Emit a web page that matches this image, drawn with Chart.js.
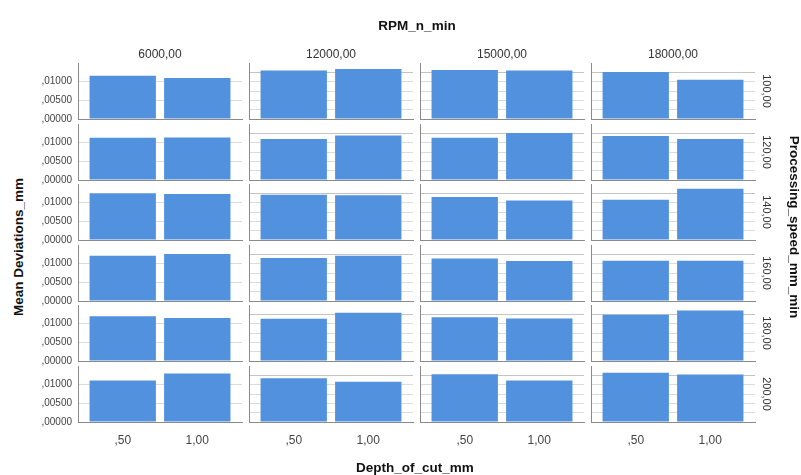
<!DOCTYPE html>
<html>
<head>
<meta charset="utf-8">
<script src="https://cdn.jsdelivr.net/npm/chart.js@4.4.1/dist/chart.umd.min.js"></script>
<style>
  body { margin: 0; background: #fff; }
  #wrap {
    position: relative;
    width: 801px;
    height: 475px;
    overflow: hidden;
    font-family: Arial, "Liberation Sans", sans-serif;
  }
  #wrap canvas { position: absolute; }
  .lbl { position: absolute; white-space: nowrap; color: #333; transform: translate(-50%, -50%); }
  .title { font-weight: bold; font-size: 13.5px; color: #111; }
  .head { font-size: 12px; }
  .rowlbl { font-size: 11px; transform: translate(-50%, -50%) rotate(90deg); }
</style>
</head>
<body>
<div id="wrap"></div>
<script>
const rpmLabels = ["6000,00", "12000,00", "15000,00", "18000,00"];
const speedLabels = ["100,00", "120,00", "140,00", "160,00", "180,00", "200,00"];
const depthValues = [0.5, 1.0];
const depthLabels = [",50", "1,00"];
const yGridValues = [0, 0.0025, 0.005, 0.0075, 0.01, 0.0125, 0.015];
const yTickValues = [0, 0.005, 0.01];
const yTickText = [",00000", ",00500", ",01000"];

// mean deviation per speed row, pairs are [depth ,50 ; depth 1,00]
const dev6000 = [
  [0.0116, 0.0110], [0.0113, 0.0114], [0.0125, 0.0123],
  [0.0121, 0.0126], [0.0120, 0.0115], [0.0111, 0.0130],
];
const dev12000 = [
  [0.0130, 0.0134], [0.0110, 0.0119], [0.0121, 0.0120],
  [0.0115, 0.0121], [0.0113, 0.0129], [0.0117, 0.0108],
];
const dev15000 = [
  [0.0131, 0.0130], [0.0113, 0.0126], [0.0115, 0.0106],
  [0.0114, 0.0107], [0.0117, 0.0114], [0.0128, 0.0111],
];
const dev18000 = [
  [0.0126, 0.0105], [0.0118, 0.0110], [0.0108, 0.0137],
  [0.0108, 0.0108], [0.0124, 0.0135], [0.0132, 0.0127],
];
const devByRpm = [dev6000, dev12000, dev15000, dev18000];

const barColor = "#5291de";
const axisColor = "#8a8a8a";

// panel geometry
const colLeft = [78, 249, 420, 591];
const rowBottom = [119, 180, 240, 301, 361, 422];
const panelW = 164;
const panelH = 56;
const PAD_T = 12;
const PAD_R = 4;
const Y_W = 50;
const X_H = 26;

const wrap = document.getElementById("wrap");

const addLabel = (text, x, y, cls, extraStyle = "") => {
  const el = document.createElement("div");
  el.className = "lbl " + cls;
  el.textContent = text;
  el.style.cssText = `left:${x}px;top:${y}px;${extraStyle}`;
  wrap.appendChild(el);
};

const makePanel = (c, r) => {
  const isLeft = c === 0;
  const isBottom = r === rowBottom.length - 1;
  const canvas = document.createElement("canvas");
  const w = Y_W + panelW + PAD_R;
  const h = PAD_T + panelH + X_H;
  canvas.width = w;
  canvas.height = h;
  canvas.style.left = colLeft[c] - Y_W + "px";
  canvas.style.top = rowBottom[r] - panelH - PAD_T + "px";
  canvas.style.width = w + "px";
  canvas.style.height = h + "px";
  wrap.appendChild(canvas);

  const values = devByRpm[c][r];

  new Chart(canvas, {
    type: "bar",
    data: {
      datasets: [
        {
          data: values.map((v, i) => ({ x: depthValues[i], y: v })),
          backgroundColor: barColor,
          borderWidth: 0,
          categoryPercentage: 1,
          barPercentage: 0.89,
        },
      ],
    },
    options: {
      responsive: false,
      animation: false,
      layout: { padding: { top: PAD_T, right: PAD_R, left: 0, bottom: 0 } },
      plugins: { legend: { display: false }, tooltip: { enabled: false } },
      scales: {
        x: {
          type: "linear",
          offset: false,
          min: 0.2,
          max: 1.3,
          afterBuildTicks: (s) => {
            s.ticks = depthValues.map((v) => ({ value: v }));
          },
          afterFit: (s) => {
            s.height = X_H;
          },
          grid: { display: false, offset: false },
          border: { display: true, color: axisColor, width: 1 },
          ticks: {
            display: isBottom,
            autoSkip: false,
            maxRotation: 0,
            padding: 3,
            color: "#444",
            font: { family: "Arial, 'Liberation Sans', sans-serif", size: 12 },
            callback: (v) => depthLabels[depthValues.indexOf(v)] ?? "",
          },
        },
        y: {
          min: 0,
          max: 0.015,
          afterBuildTicks: (s) => {
            s.ticks = yGridValues.map((v) => ({ value: v }));
          },
          afterFit: (s) => {
            s.width = Y_W;
          },
          grid: {
            drawTicks: false,
            color: (ctx) => {
              const v = ctx.tick && ctx.tick.value;
              if (v === 0.015) return "rgba(0,0,0,0)";
              if (v === 0.0125) return "#c4c4c4";
              return "#dcdcdc";
            },
          },
          border: { display: true, color: axisColor, width: 1 },
          ticks: {
            display: isLeft,
            padding: 6,
            color: "#444",
            font: { family: "Arial, 'Liberation Sans', sans-serif", size: 10 },
            callback: (v) => {
              const i = yTickValues.indexOf(v);
              return i < 0 ? "" : yTickText[i];
            },
          },
        },
      },
    },
  });
};

rpmLabels.forEach((_, c) => speedLabels.forEach((_, r) => makePanel(c, r)));

// facet headers
rpmLabels.forEach((t, c) => addLabel(t, colLeft[c] + panelW / 2, 54, "head"));
speedLabels.forEach((t, r) =>
  addLabel(t, 767, rowBottom[r] - panelH / 2, "rowlbl"),
);

// axis titles
addLabel("RPM_n_min", 417, 25, "title");
addLabel("Depth_of_cut_mm", 415, 467, "title");
addLabel("Mean Deviations_mm", 18, 247, "title", "transform:translate(-50%,-50%) rotate(-90deg);");
addLabel("Processing_speed_mm_min", 794, 227, "title", "transform:translate(-50%,-50%) rotate(90deg);");
</script>
</body>
</html>
